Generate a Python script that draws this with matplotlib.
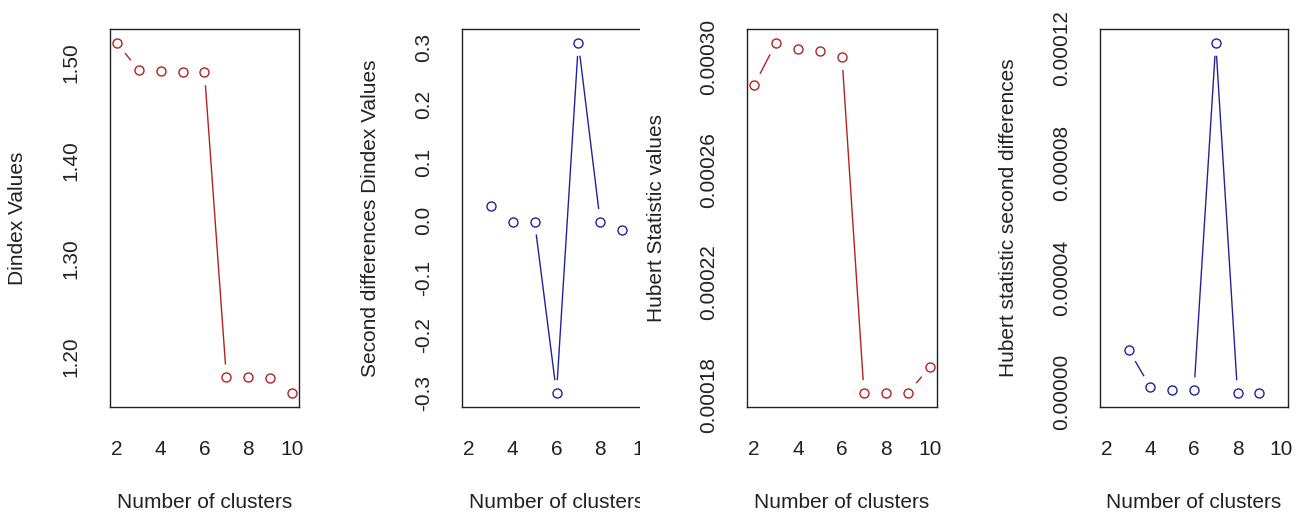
import numpy as np
import matplotlib
matplotlib.use('Agg')
import matplotlib.pyplot as plt
from matplotlib.patches import Rectangle
from matplotlib.ticker import FormatStrFormatter

plt.rcParams['font.family'] = ['Liberation Sans', 'DejaVu Sans']

# values
clusters = [2, 3, 4, 5, 6, 7, 8, 9, 10]
dindex = [1.520, 1.492, 1.491, 1.490, 1.490, 1.179, 1.179, 1.178, 1.163]
hubert = [0.000290, 0.000305, 0.000303, 0.000302, 0.000300,
          0.0001807, 0.0001807, 0.0001807, 0.000190]

diff_clusters = [3, 4, 5, 6, 7, 8, 9]
dindex_diff2 = [0.024, -0.003, -0.003, -0.300, 0.307, -0.003, -0.017]
hubert_diff2 = [0.0000147, 0.0000017, 0.0000007, 0.0000007, 0.0001219,
                -0.0000003, -0.0000003]

xticks = [2, 4, 6, 8, 10]
dindex_ticks = [1.20, 1.30, 1.40, 1.50]
dindex_diff_ticks = [-0.3, -0.2, -0.1, 0.0, 0.1, 0.2, 0.3]
hubert_ticks = [0.00018, 0.00022, 0.00026, 0.00030]
hubert_diff_ticks = [0.0, 0.00004, 0.00008, 0.00012]

RED = '#b22222'
BLUE = '#22229a'
INK = '#222222'

W, H = 1306, 516
fig = plt.figure(figsize=(W / 100, H / 100), dpi=100)


def make_ax(left, width, zorder=1):
    ax = fig.add_axes([left / W, 109 / H, width / W, 378 / H])
    ax.set_zorder(zorder)
    for s in ax.spines.values():
        s.set_color(INK)
        s.set_linewidth(1.0)
    return ax


def type_b(ax, x, y, color, gap=13.5):
    # R style type="b": line segments stop short of the points
    pts = ax.transData.transform(np.column_stack([x, y]))
    inv = ax.transData.inverted()
    for p, q in zip(pts[:-1], pts[1:]):
        d = q - p
        L = np.hypot(*d)
        if L > 2 * gap:
            u = d / L
            a = inv.transform(p + u * gap)
            b = inv.transform(q - u * gap)
            ax.plot([a[0], b[0]], [a[1], b[1]], color=color, lw=1.0)
    ax.plot(x, y, 'o', mfc='none', mec=color, ms=6.5, mew=1.0)


def style(ax, ylabel, yticks, fmt, ylab_x):
    ax.set_xticks(xticks)
    ax.set_yticks(yticks)
    ax.yaxis.set_major_formatter(FormatStrFormatter(fmt))
    ax.tick_params(axis='both', length=0, labelsize=15, colors=INK)
    ax.tick_params(axis='x', pad=24)
    ax.tick_params(axis='y', pad=21, labelrotation=90)
    for lab in ax.get_yticklabels():
        lab.set_va('center')
    ax.set_xlabel('Number of clusters', fontsize=15, color=INK, va='center')
    ax.xaxis.set_label_coords(0.5, -95 / 378)
    ax.set_ylabel(ylabel, fontsize=15, color=INK, va='center')
    left = ax.get_position().x0 * W
    width = ax.get_position().width * W
    ax.yaxis.set_label_coords((ylab_x - left) / width, 0.5)


def ylim_r(vals):
    lo, hi = min(vals), max(vals)
    ext = 0.04 * (hi - lo)
    return lo - ext, hi + ext


xlim = (2 - 0.32, 10 + 0.32)

ax1 = make_ax(110, 189)
ax2 = make_ax(462, 189, zorder=0)
ax3 = make_ax(747, 190)
ax4 = make_ax(1100, 188)

panels = [
    (ax1, clusters, dindex, RED, 'Dindex Values', dindex_ticks, '%.2f', 18),
    (ax2, diff_clusters, dindex_diff2, BLUE, 'Second differences Dindex Values',
     dindex_diff_ticks, '%.1f', 370),
    (ax3, clusters, hubert, RED, 'Hubert Statistic values', hubert_ticks, '%.5f', 657),
    (ax4, diff_clusters, hubert_diff2, BLUE, 'Hubert statistic second differences',
     hubert_diff_ticks, '%.5f', 1008),
]

for ax, x, y, col, ylabel, yt, fmt, lx in panels:
    ax.set_xlim(*xlim)
    ax.set_ylim(*ylim_r(y))
    style(ax, ylabel, yt, fmt, lx)

for ax, x, y, col, ylabel, yt, fmt, lx in panels:
    type_b(ax, x, y, col)

# second panel is cut off on its right side in the original
fig.add_artist(Rectangle((640 / W, 0), 110 / W, 1, transform=fig.transFigure,
                         facecolor='white', edgecolor='none', zorder=0.5))

plt.savefig('out.png', dpi=100)
